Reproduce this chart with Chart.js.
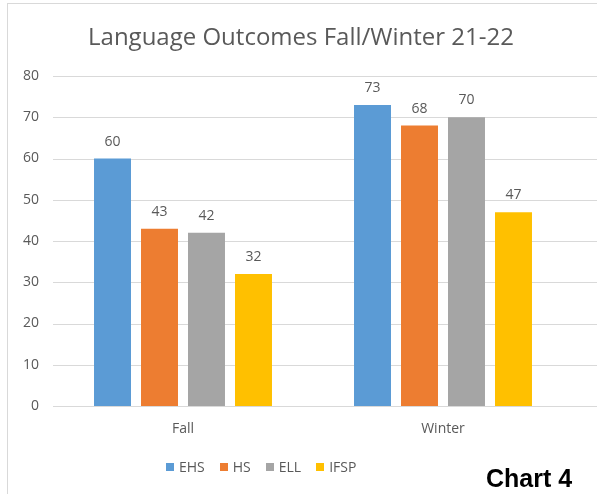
<!DOCTYPE html>
<html>
<head>
<meta charset="utf-8">
<script src="https://cdn.jsdelivr.net/npm/chart.js@4"></script>
<style>
  html, body { margin: 0; padding: 0; background: #fff; }
  #wrap { position: relative; width: 597px; height: 494px; overflow: hidden; }
  #frame { position: absolute; left: 7px; top: 3px; width: 620px; height: 520px;
           border-left: 1px solid #d9d9d9; border-top: 1px solid #d9d9d9; }
  #title { position: absolute; left: 0; width: 602px; top: 19px; text-align: center;
           font: 24px "Open Sans", sans-serif; color: #595959; }
  #legend { position: absolute; left: 166px; top: 457px; display: flex;
            font: 14px "Open Sans", sans-serif; color: #595959; }
  #legend span.item { display: flex; align-items: center; margin-right: 15px; }
  #legend span.box { width: 8px; height: 8px; margin-right: 5px; display: inline-block; }
  #tag { position: absolute; left: 486px; top: 464px;
         font: bold 25px "Liberation Sans", Arial, sans-serif; color: #000; }
  canvas { position: absolute; left: 0; top: 0; }
</style>
</head>
<body>
<div id="wrap">
  <div id="frame"></div>
  <canvas id="chart" width="597" height="494"></canvas>
  <div id="title">Language Outcomes Fall/Winter 21-22</div>
  <div id="legend"></div>
  <div id="tag">Chart 4</div>
</div>
<script>
// data
const CATEGORIES = ["Fall", "Winter"];
const SERIES = ["EHS", "HS", "ELL", "IFSP"];
const EHS = [60, 73];
const HS = [43, 68];
const ELL = [42, 70];
const IFSP = [32, 47];
const COLORS = ["#5B9BD5", "#ED7D31", "#A5A5A5", "#FFC000"];
const Y_TICKS = [0, 10, 20, 30, 40, 50, 60, 70, 80];

const TEXT = "#595959";
const GRID = "#D9D9D9";

// gridlines run to the right edge of the picture
const gridPlugin = {
  id: "grid",
  beforeDatasetsDraw(chart) {
    const { ctx, chartArea, scales } = chart;
    ctx.save();
    ctx.strokeStyle = GRID;
    ctx.lineWidth = 1;
    Y_TICKS.forEach(v => {
      const y = Math.round(scales.y.getPixelForValue(v)) + 0.5;
      ctx.beginPath();
      ctx.moveTo(chartArea.left, y);
      ctx.lineTo(chart.width, y);
      ctx.stroke();
    });
    ctx.restore();
  }
};

// value labels above bars
const labelPlugin = {
  id: "labels",
  afterDatasetsDraw(chart) {
    const { ctx } = chart;
    ctx.save();
    ctx.font = '14px "Open Sans", sans-serif';
    ctx.fillStyle = TEXT;
    ctx.textAlign = "center";
    ctx.textBaseline = "alphabetic";
    chart.data.datasets.forEach((ds, i) => {
      chart.getDatasetMeta(i).data.forEach((bar, j) => {
        ctx.fillText(ds.data[j], bar.x, bar.y - 13);
      });
    });
    ctx.restore();
  }
};

const values = [EHS, HS, ELL, IFSP];

new Chart(document.getElementById("chart"), {
  type: "bar",
  data: {
    labels: CATEGORIES,
    datasets: SERIES.map((s, i) => ({
      label: s,
      data: values[i],
      backgroundColor: COLORS[i],
      categoryPercentage: 0.723,
      barPercentage: 0.787
    }))
  },
  options: {
    responsive: false,
    animation: false,
    devicePixelRatio: 1,
    layout: { padding: { left: 10, right: 24, top: 76, bottom: 58 } },
    plugins: { legend: { display: false }, title: { display: false }, tooltip: { enabled: false } },
    scales: {
      x: {
        grid: { display: false, drawTicks: false },
        border: { display: false },
        ticks: { color: TEXT, padding: 15, font: { family: "Open Sans", size: 14 } },
        afterFit(scale) { scale.height = 30; }
      },
      y: {
        min: 0,
        max: 80,
        grid: { display: false, drawTicks: false },
        border: { display: false },
        ticks: { stepSize: 10, color: TEXT, padding: 14, font: { family: "Open Sans", size: 14 } },
        afterFit(scale) { scale.width = 43; }
      }
    }
  },
  plugins: [gridPlugin, labelPlugin]
});

// legend
const legend = document.getElementById("legend");
SERIES.forEach((s, i) => {
  const item = document.createElement("span");
  item.className = "item";
  item.innerHTML = `<span class="box" style="background:${COLORS[i]}"></span>${s}`;
  legend.appendChild(item);
});
</script>
</body>
</html>
